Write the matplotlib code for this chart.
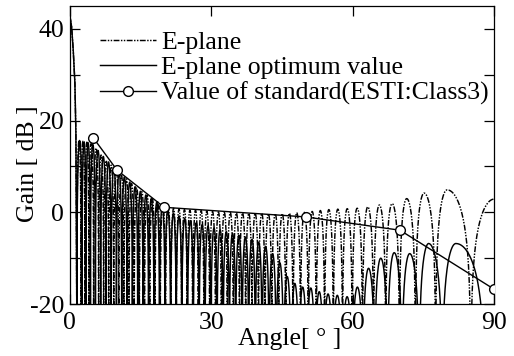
import numpy as np
import matplotlib
matplotlib.use('Agg')
import matplotlib.pyplot as plt

plt.rcParams['font.family'] = ['Liberation Serif', 'DejaVu Serif']
plt.rcParams['axes.unicode_minus'] = False

# ---------------- data ----------------
# main beam samples (angle [deg], gain [dB])
beam_angle = [0.0, 0.35, 0.7, 1.06, 1.27, 1.45]
beam_gain = [42.8, 40.6, 35.5, 28.2, 17.3, -20.0]
main_null = 1.5

# E-plane sidelobe peaks
e_peak_angle = [1.95, 2.75, 3.6, 4.5, 5.56, 6.62, 7.69, 8.76, 9.83, 10.91,
                11.99, 13.08, 14.17, 15.27, 16.37, 17.48, 18.59, 19.71, 20.84, 21.98,
                23.13, 24.29, 25.45, 26.63, 27.83, 29.03, 30.25, 31.49, 32.74, 34.01,
                35.30, 36.61, 37.94, 39.29, 40.68, 42.09, 43.54, 45.02, 46.54, 48.10,
                49.71, 51.38, 53.11, 54.91, 56.81, 58.81, 60.92, 63.17, 65.62, 68.33,
                71.42, 75.11, 79.99]
e_peak_gain = [15.8, 15.5, 15.3, 15.0, 14.0, 12.5, 11.3, 10.3, 9.3, 8.3,
               7.3, 6.3, 5.3, 4.5, 3.7, 3.0, 2.3, 1.6, 1.1, 0.9,
               0.7, 0.6, 0.5, 0.5, 0.4, 0.3, 0.2, 0.1, 0.0, 0.0,
               -0.1, -0.1, -0.2, -0.2, -0.2, -0.3, -0.3, -0.3, -0.2, -0.1,
               0.0, 0.2, 0.4, 0.6, 0.7, 0.8, 0.9, 1.2, 1.6, 1.9,
               3.0, 4.2, 4.9]
e_last_null = 85.0
e_end_gain = 2.9          # value at 90 deg

# E-plane optimum value sidelobe peaks
opt_peak_angle = [2.1, 3.0, 3.85, 4.86, 5.96, 7.08, 8.19, 9.31, 10.43, 11.55,
                  12.68, 13.82, 14.95, 16.10, 17.25, 18.41, 19.58, 20.75, 21.94, 23.13,
                  24.34, 25.56, 26.78, 28.03, 29.28, 30.56, 31.85, 33.16, 34.48, 35.83,
                  37.21, 38.61, 40.03, 41.49, 42.98, 44.51, 46.08, 47.69, 49.36, 51.08,
                  52.87, 54.74, 56.70, 58.78, 60.96, 63.33, 65.92, 68.77, 72.05, 76.07,
                  81.85]
opt_peak_gain = [15.6, 15.4, 15.2, 14.8, 13.5, 12.2, 11.0, 9.8, 8.7, 7.7,
                 6.6, 5.6, 4.6, 3.8, 3.0, 2.2, 1.4, 0.6, -0.2, -0.8,
                 -1.3, -1.8, -2.3, -2.7, -3.0, -3.4, -3.8, -4.2, -4.6, -5.0,
                 -5.4, -5.9, -6.5, -7.4, -9.0, -11.0, -14.0, -15.5, -16.3, -16.5,
                 -17.3, -17.8, -18.1, -18.4, -16.3, -12.2, -10.0, -8.8, -9.0, -6.8,
                 -6.8]
opt_last_null = 88.0

# standard (ETSI class 3)
std_angle = [5, 10, 20, 50, 70, 90]
std_gain = [16.2, 9.2, 1.1, -1.0, -3.9, -16.8]

labels = ['E-plane', 'E-plane optimum value', 'Value of standard(ESTI:Class3)']


# ---------------- build lobe curves from peaks ----------------
def lobe_curve(peaks, gains, first_null, last_null, end_gain=None, n=60):
    nulls = [first_null] + [(a + b) / 2 for a, b in zip(peaks[:-1], peaks[1:])] + [last_null]
    s = np.linspace(0, 1, n) ** 2
    xs = [np.array(beam_angle)]
    ys = [np.array(beam_gain)]
    for i, (p, g) in enumerate(zip(peaks, gains)):
        a, b = nulls[i], nulls[i + 1]
        xl = a + (p - a) * s
        al = np.sin(np.pi / 2 * s)
        xr = b - (b - p) * s[::-1]
        ar = np.sin(np.pi / 2 * s[::-1])
        x = np.concatenate([xl, xr[1:]])
        amp = np.concatenate([al, ar[1:]])
        y = g + 20 * np.log10(np.maximum(amp, 1e-4))
        xs.append(x)
        ys.append(y)
    if end_gain is not None:
        xl = last_null + (90 - last_null) * s
        al = np.sin(np.pi / 2 * s)
        xs.append(xl)
        ys.append(end_gain + 20 * np.log10(np.maximum(al, 1e-4)))
    return np.concatenate(xs), np.concatenate(ys)


ex, ey = lobe_curve(e_peak_angle, e_peak_gain, main_null, e_last_null, e_end_gain)
ox, oy = lobe_curve(opt_peak_angle, opt_peak_gain, main_null, opt_last_null)

FS = 18.5
fig = plt.figure(figsize=(5.14, 3.56), dpi=100)
ax = fig.add_axes([0.136, 0.146, 0.8257, 0.837])

ax.plot(ex, ey, color='black', lw=1.05, linestyle=(0, (4, 1, 1, 1, 1, 1)), label=labels[0])
ax.plot(ox, oy, color='black', lw=1.05, linestyle='-', label=labels[1])
ax.plot(std_angle, std_gain, color='black', lw=1.0, marker='o', markersize=7,
        markerfacecolor='white', markeredgecolor='black', markeredgewidth=1.0,
        label=labels[2], zorder=5)

ax.set_xlim(0, 90)
ax.set_ylim(-20, 45)
ax.set_xticks([0, 30, 60, 90])
ax.set_yticks([-20, 0, 20, 40])
ax.set_yticks([-10, 10, 30], minor=True)
ax.tick_params(axis='both', which='both', direction='in', top=True, right=True,
               labelsize=FS)
ax.tick_params(axis='x', pad=6)
ax.tick_params(axis='y', pad=4)
ax.tick_params(which='major', length=7, width=0.9)
ax.tick_params(which='minor', length=7, width=0.9)
for sp in ax.spines.values():
    sp.set_linewidth(0.9)

ax.set_xlabel('Angle[ ° ]', fontsize=FS)
ax.xaxis.set_label_coords(0.518, -0.08)
ax.set_ylabel('Gain [ dB ]', fontsize=FS)
ax.yaxis.set_label_coords(-0.072, 0.47)

ax.legend(loc='upper left', bbox_to_anchor=(0.072, 0.917), frameon=False,
          fontsize=FS, handlelength=2.15, handletextpad=0.2, labelspacing=0.1,
          borderaxespad=0, borderpad=0)

fig.savefig('out.png', dpi=100)
